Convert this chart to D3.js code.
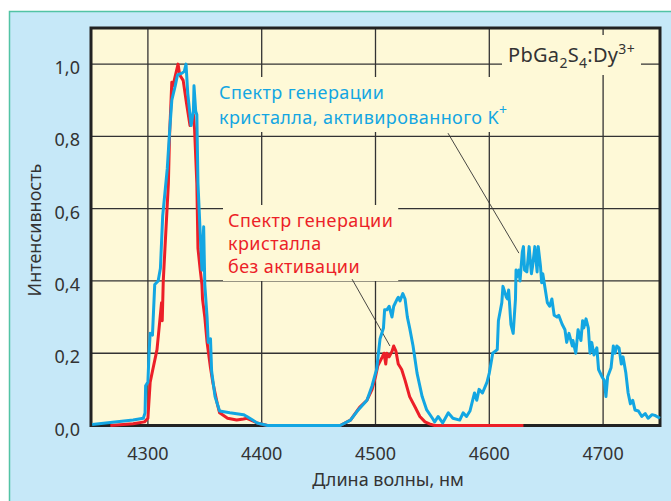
<!DOCTYPE html>
<html>
<head>
<meta charset="utf-8">
<script src="https://cdn.jsdelivr.net/npm/d3@7/dist/d3.min.js"></script>
<style>
  body { margin: 0; background: #fff; }
  text { font-family: "Noto Sans", sans-serif; }
</style>
</head>
<body>
<svg width="671" height="501"></svg>
<script>
// spectrum data: [wavelength nm, relative intensity]
const redSpectrum = [
  [4267, 0], [4287, 0.005], [4297, 0.01], [4300, 0.02], [4301, 0.07], [4302, 0.12],
  [4304, 0.15], [4308, 0.21], [4312, 0.34], [4312.6, 0.29], [4313.5, 0.40],
  [4315, 0.49], [4318, 0.67], [4319, 0.8], [4321, 0.95], [4322, 0.94], [4326.5, 1.0],
  [4328, 0.97], [4331, 0.955], [4334, 0.89], [4337, 0.83], [4340, 0.86], [4341, 0.82],
  [4343, 0.67], [4344, 0.49], [4346, 0.43], [4347.5, 0.39], [4348, 0.35], [4350, 0.30],
  [4352, 0.23], [4355, 0.16], [4357, 0.12], [4361, 0.06], [4363, 0.035], [4370, 0.02],
  [4378, 0.015], [4384, 0.018], [4387, 0.02], [4396, 0.007], [4405, 0], [4469, 0],
  [4478, 0.015], [4486, 0.05], [4492.5, 0.07], [4497, 0.1], [4500, 0.135], [4502, 0.165],
  [4506, 0.19], [4507.5, 0.2], [4509, 0.17], [4510, 0.2], [4512, 0.19], [4514.5, 0.205],
  [4516, 0.22], [4518, 0.205], [4520, 0.17], [4523, 0.155], [4526, 0.125], [4530, 0.08],
  [4535, 0.05], [4539, 0.025], [4543.5, 0.01], [4548, 0.004], [4552, 0], [4630, 0]
];
const blueSpectrum = [
  [4251, 0.003], [4267, 0.008], [4287, 0.015], [4296, 0.02], [4297.5, 0.035], [4298, 0.11],
  [4300, 0.12], [4301, 0.2], [4302, 0.255], [4304, 0.25], [4306, 0.39], [4309, 0.40],
  [4311, 0.435], [4313, 0.58], [4317, 0.71], [4319, 0.81], [4321, 0.9], [4324, 0.94],
  [4326, 0.97], [4330, 0.975], [4332, 0.98], [4333.5, 1.0], [4335, 0.92], [4338, 0.83],
  [4340, 0.87], [4340.5, 0.94], [4342, 0.87], [4343, 0.86], [4344, 0.67], [4346, 0.53],
  [4347.5, 0.43], [4349, 0.55], [4350, 0.39], [4352, 0.30], [4353, 0.23], [4355, 0.24],
  [4356, 0.15], [4359, 0.08], [4363, 0.04], [4372, 0.035], [4384, 0.03], [4387, 0.025],
  [4392, 0.015], [4396, 0.007], [4405, 0], [4469, 0], [4478, 0.015], [4484, 0.04],
  [4492.5, 0.07], [4497, 0.11], [4500, 0.145], [4501, 0.155], [4504, 0.24], [4507, 0.27],
  [4508, 0.32], [4510, 0.32], [4512, 0.33], [4514.5, 0.30], [4516, 0.33], [4519, 0.35],
  [4520, 0.355], [4521.5, 0.345], [4524, 0.365], [4526, 0.35], [4528, 0.30], [4530, 0.27],
  [4533, 0.22], [4536.5, 0.145], [4541, 0.08], [4545, 0.043], [4550, 0.02], [4552, 0.01],
  [4555, 0.025], [4559, 0.007], [4564, 0.035], [4568, 0.02], [4574, 0.015], [4577, 0.035],
  [4580, 0.025], [4583, 0.04], [4587, 0.09], [4589, 0.07], [4591, 0.1], [4594, 0.09],
  [4598, 0.12], [4600, 0.145], [4603, 0.2], [4607, 0.21], [4608, 0.29], [4611, 0.34],
  [4612, 0.385], [4615, 0.355], [4616, 0.35], [4617, 0.375], [4619, 0.28], [4621, 0.255],
  [4623, 0.35], [4623.5, 0.43], [4624, 0.41], [4626, 0.43], [4627, 0.40], [4629, 0.48],
  [4630, 0.495], [4631, 0.43], [4633, 0.425], [4635, 0.495], [4637, 0.42], [4638, 0.44],
  [4640, 0.495], [4642, 0.425], [4643, 0.495], [4645, 0.44], [4646, 0.395], [4647, 0.42],
  [4649, 0.38], [4651, 0.34], [4653, 0.33], [4655, 0.35], [4657, 0.305], [4659.5, 0.30],
  [4661, 0.305], [4664, 0.28], [4666.5, 0.265], [4668, 0.23], [4670, 0.255], [4673, 0.22],
  [4673.5, 0.235], [4676, 0.2], [4678, 0.265], [4680.5, 0.235], [4682, 0.29], [4683, 0.27],
  [4685, 0.295], [4687, 0.27], [4688.5, 0.2], [4690, 0.23], [4692, 0.195], [4694.5, 0.215],
  [4696, 0.155], [4699, 0.135], [4701, 0.125], [4702.5, 0.08], [4704, 0.135], [4707, 0.16],
  [4709, 0.22], [4710.5, 0.2], [4712, 0.22], [4714, 0.215], [4716, 0.17], [4717.5, 0.19],
  [4720, 0.145], [4722, 0.09], [4724, 0.06], [4726, 0.07], [4728, 0.043], [4731, 0.04],
  [4734, 0.025], [4737, 0.033], [4739.5, 0.02], [4743, 0.03], [4745.5, 0.028], [4750, 0.02]
];
const xTicks = [4300, 4400, 4500, 4600, 4700];
const yTicks = [0, 0.2, 0.4, 0.6, 0.8, 1.0];
const xTitle = 'Длина волны, нм';
const yTitle = 'Интенсивность';
const blueLabel = ['Спектр генерации', 'кристалла, активированного K'];
const redLabel = ['Спектр генерации', 'кристалла', 'без активации'];
// leader lines, data coords [from, to]
const blueLeader = [[4563.7, 0.809], [4626, 0.477]];
const redLeader = [[4479.4, 0.405], [4512.7, 0.22]];

const BLUE = '#13a6e2';
const RED = '#ec1f28';
const TEXT = '#333';

const svg = d3.select('svg');
const margin = {left: 91, right: 660, top: 28, bottom: 425.5};

const x = d3.scaleLinear().domain([4250, 4750]).range([margin.left, margin.right]);
const y = d3.scaleLinear().domain([0, 1.1]).range([margin.bottom, margin.top]);

// outer panel
svg.append('rect')
    .attr('x', 9).attr('y', 11).attr('width', 671).attr('height', 501)
    .attr('fill', '#c6e8f8');
svg.append('path')
    .attr('d', 'M9.5,501V11.5H671')
    .attr('fill', 'none')
    .attr('stroke', '#52c3a5')
    .attr('stroke-width', 1.5);

// plot area
svg.append('rect')
    .attr('x', margin.left).attr('y', margin.top)
    .attr('width', margin.right - margin.left)
    .attr('height', margin.bottom - margin.top)
    .attr('fill', '#fef9d7');

const grid = svg.append('g').attr('stroke', '#333').attr('stroke-width', 1.3);
grid.selectAll('line.v')
    .data(xTicks)
    .join('line')
    .attr('class', 'v')
    .attr('x1', d => x(d)).attr('x2', d => x(d))
    .attr('y1', margin.top).attr('y2', margin.bottom);
grid.selectAll('line.h')
    .data(yTicks.filter(d => d > 0))
    .join('line')
    .attr('class', 'h')
    .attr('x1', margin.left).attr('x2', margin.right)
    .attr('y1', d => y(d)).attr('y2', d => y(d));

// frame
svg.append('rect')
    .attr('x', margin.left).attr('y', margin.top)
    .attr('width', margin.right - margin.left)
    .attr('height', margin.bottom - margin.top)
    .attr('fill', 'none')
    .attr('stroke', '#222')
    .attr('stroke-width', 3);

// labels with backgrounds that hide the grid
const labels = svg.append('g');
function add_label(lines, px, py, lh, color, size) {
    const g = labels.append('g');
    const bg = g.append('rect').attr('fill', '#fef9d7');
    const t = g.append('text')
        .attr('fill', color)
        .attr('font-size', size)
        .attr('letter-spacing', 0.4);
    lines.forEach(function(line, i) {
        t.append('tspan').attr('x', px).attr('y', py + i * lh).text(line);
    });
    return {g: g, bg: bg, t: t};
}
function fit_bg(lbl, pad) {
    const b = lbl.t.node().getBBox();
    lbl.bg.attr('x', b.x - pad).attr('y', b.y - pad + 2)
        .attr('width', b.width + 2 * pad).attr('height', b.height + 2 * pad - 4);
}

const bl = add_label(blueLabel, 219, 99, 25, BLUE, 18);
bl.t.append('tspan').attr('dy', -9).attr('font-size', 14).text('+');
fit_bg(bl, 5);

const rl = add_label(redLabel, 228, 227, 23, RED, 18);
fit_bg(rl, 5);

// compound name
const cmp = labels.append('g');
const cmpBg = cmp.append('rect').attr('fill', '#fef9d7');
const ct = cmp.append('text').attr('x', 508).attr('y', 62).attr('fill', TEXT)
    .attr('font-size', 20).attr('letter-spacing', 0.3);
ct.append('tspan').text('PbGa');
ct.append('tspan').attr('dy', 6).attr('font-size', 14).text('2');
ct.append('tspan').attr('dy', -6).text('S');
ct.append('tspan').attr('dy', 6).attr('font-size', 14).text('4');
ct.append('tspan').attr('dy', -6).text(':Dy');
ct.append('tspan').attr('dy', -8).attr('font-size', 14).text('3+');
const cb = ct.node().getBBox();
cmpBg.attr('x', cb.x - 6).attr('y', 35).attr('width', cb.width + 12).attr('height', 40);

// leader lines
svg.append('g')
    .selectAll('line')
    .data([blueLeader, redLeader])
    .join('line')
    .attr('x1', d => x(d[0][0])).attr('y1', d => y(d[0][1]))
    .attr('x2', d => x(d[1][0])).attr('y2', d => y(d[1][1]))
    .attr('stroke', '#333')
    .attr('stroke-width', 0.9);

// spectra
const line = d3.line().x(d => x(d[0])).y(d => y(d[1]));
svg.append('path')
    .datum(redSpectrum)
    .attr('d', line)
    .attr('fill', 'none')
    .attr('stroke', RED)
    .attr('stroke-width', 3)
    .attr('stroke-linejoin', 'round');
svg.append('path')
    .datum(blueSpectrum)
    .attr('d', line)
    .attr('fill', 'none')
    .attr('stroke', BLUE)
    .attr('stroke-width', 3)
    .attr('stroke-linejoin', 'round');

// tick labels
svg.append('g')
    .selectAll('text')
    .data(xTicks)
    .join('text')
    .attr('x', d => x(d))
    .attr('y', 460)
    .attr('text-anchor', 'middle')
    .attr('font-size', 18)
    .attr('fill', TEXT)
    .text(d => d);
svg.append('g')
    .selectAll('text')
    .data(yTicks)
    .join('text')
    .attr('x', 80)
    .attr('y', d => y(d) + 10)
    .attr('text-anchor', 'end')
    .attr('font-size', 18)
    .attr('fill', TEXT)
    .text(d => d3.format('.1f')(d).replace('.', ','));

// axis titles
svg.append('text')
    .attr('x', 388).attr('y', 486)
    .attr('text-anchor', 'middle')
    .attr('font-size', 18)
    .attr('fill', TEXT)
    .text(xTitle);
svg.append('text')
    .attr('transform', 'translate(41,230) rotate(-90)')
    .attr('text-anchor', 'middle')
    .attr('font-size', 18)
    .attr('fill', TEXT)
    .text(yTitle);
</script>
</body>
</html>
